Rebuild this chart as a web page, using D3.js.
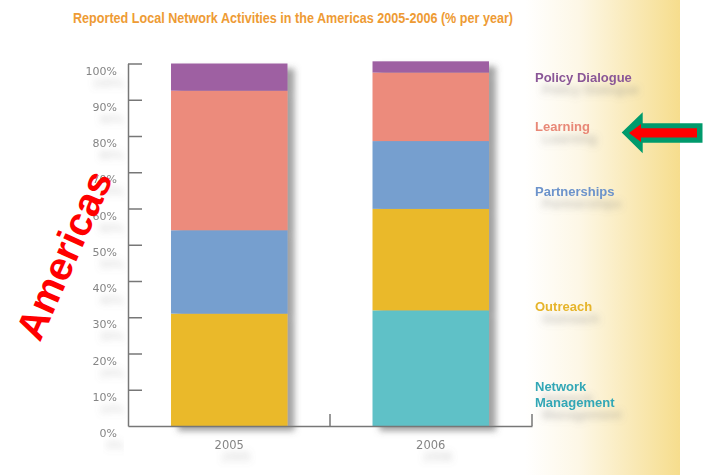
<!DOCTYPE html>
<html>
<head>
<meta charset="utf-8">
<script src="https://cdn.jsdelivr.net/npm/d3@7"></script>
<style>
  body { margin: 0; background: #fff; }
  svg { display: block; }
</style>
</head>
<body>
<svg></svg>
<script>
// values, % per year
const years = ['2005', '2006'];
const categories = ['Network Management', 'Outreach', 'Partnerships', 'Learning', 'Policy Dialogue'];
const networkManagement = [0, 31.9];
const outreach = [31, 28];
const partnerships = [23, 18.7];
const learning = [38.5, 18.9];
const policyDialogue = [7.5, 3.1];
const yTicks = [0, 10, 20, 30, 40, 50, 60, 70, 80, 90, 100];

const series = [networkManagement, outreach, partnerships, learning, policyDialogue];
const colors = ['#5fc1c7', '#eab92b', '#769fcf', '#ec8b7c', '#9e60a2'];
const labelColors = ['#33a7b6', '#e6b42a', '#6c93cb', '#e88877', '#8a5797'];

let width = 719, height = 475;

let svg = d3.select('svg')
            .attr('width', width)
            .attr('height', height);

let defs = svg.append('defs');

let grad = defs.append('linearGradient')
               .attr('id', 'bg')
               .attr('x1', 0).attr('x2', 1).attr('y1', 0).attr('y2', 0);
grad.append('stop').attr('offset', '0%').attr('stop-color', '#ffffff');
grad.append('stop').attr('offset', '35%').attr('stop-color', '#fdf7e6');
grad.append('stop').attr('offset', '100%').attr('stop-color', '#f6dd8d');

let barShadow = defs.append('filter').attr('id', 'barShadow')
                    .attr('x', '-10%').attr('y', '-10%').attr('width', '130%').attr('height', '125%');
barShadow.append('feDropShadow')
         .attr('dx', 7).attr('dy', 5).attr('stdDeviation', 3)
         .attr('flood-color', '#555').attr('flood-opacity', 0.55);

// blurred grey smudge under the labels
let textShadow = defs.append('filter').attr('id', 'textShadow')
                     .attr('x', '-20%').attr('y', '-60%').attr('width', '160%').attr('height', '300%');
textShadow.append('feGaussianBlur').attr('in', 'SourceAlpha').attr('stdDeviation', 3.5).attr('result', 'b');
textShadow.append('feOffset').attr('in', 'b').attr('dx', 7).attr('dy', 12).attr('result', 'o');
textShadow.append('feFlood').attr('flood-color', '#777').attr('flood-opacity', 0.4);
textShadow.append('feComposite').attr('in2', 'o').attr('operator', 'in').attr('result', 's');
let merge = textShadow.append('feMerge');
merge.append('feMergeNode').attr('in', 's');
merge.append('feMergeNode').attr('in', 'SourceGraphic');

// background band on the right
svg.append('rect')
   .attr('x', 0).attr('y', 0).attr('width', width).attr('height', height)
   .attr('fill', '#fff');
svg.append('rect')
   .attr('x', 525).attr('y', 0).attr('width', 155).attr('height', height)
   .attr('fill', 'url(#bg)');

// title
svg.append('text')
   .attr('x', 73).attr('y', 23)
   .attr('textLength', 440)
   .attr('lengthAdjust', 'spacingAndGlyphs')
   .style('font-family', 'Liberation Sans, Arial, sans-serif')
   .style('font-weight', 'bold')
   .style('font-size', '14px')
   .attr('fill', '#ee9b34')
   .text('Reported Local Network Activities in the Americas 2005-2006 (% per year)');

let x = d3.scaleBand()
          .domain(years)
          .range([128, 532])
          .paddingInner(0.422)
          .paddingOuter(0.2135);

let y = d3.scaleLinear()
          .domain([0, 100])
          .range([426, 63.5]);

let table = years.map((yr, i) => {
  let row = { year: yr };
  categories.forEach((c, k) => row[c] = series[k][i]);
  return row;
});

let stacked = d3.stack().keys(categories)(table);

// bars, one shadowed group per year
let barsGp = svg.append('g').classed('bars', true);
years.forEach((yr, i) => {
  let g = barsGp.append('g').attr('filter', 'url(#barShadow)');
  g.selectAll('rect')
    .data(stacked.map((s, k) => ({ key: s.key, k: k, d: s[i] })))
    .enter()
    .append('rect')
    .attr('x', x(yr))
    .attr('width', x.bandwidth())
    .attr('y', d => y(d.d[1]))
    .attr('height', d => y(d.d[0]) - y(d.d[1]))
    .attr('fill', d => colors[d.k]);
});

// y axis
let yAxis = svg.append('g')
               .attr('transform', 'translate(128,0)')
               .call(d3.axisLeft(y)
                       .tickValues(yTicks)
                       .tickSizeInner(-14)
                       .tickSizeOuter(0)
                       .tickPadding(11)
                       .tickFormat(d => d + '%'));
yAxis.select('.domain').attr('stroke', '#777').attr('stroke-width', 1.5);
yAxis.selectAll('.tick line').attr('stroke', '#777').attr('stroke-width', 1.5);
yAxis.selectAll('.tick').filter(d => d === 0).select('line').remove();
yAxis.selectAll('.tick text')
     .attr('y', 7)
     .attr('fill', '#858585')
     .attr('filter', 'url(#textShadow)')
     .style('font-family', 'DejaVu Sans, sans-serif')
     .style('font-size', '11px');

// x axis
let xAxis = svg.append('g')
               .attr('transform', 'translate(0,426)')
               .call(d3.axisBottom(x).tickSize(0).tickPadding(15));
xAxis.select('.domain').attr('stroke', '#777').attr('stroke-width', 1.5);
xAxis.selectAll('.tick text')
     .attr('fill', '#858585')
     .attr('filter', 'url(#textShadow)')
     .style('font-family', 'DejaVu Sans, sans-serif')
     .style('font-size', '11.5px');

let bounds = [(x(years[0]) + x.bandwidth() + x(years[1])) / 2, x.range()[1]];
xAxis.selectAll('line.sep')
     .data(bounds)
     .enter()
     .append('line')
     .attr('x1', d => d).attr('x2', d => d)
     .attr('y1', 0).attr('y2', -12)
     .attr('stroke', '#777').attr('stroke-width', 1.5);

// legend labels down the right side
let legendY = [386, 306, 191, 126, 77];
let legend = svg.append('g').classed('legend', true);
categories.forEach((c, k) => {
  let t = legend.append('text')
                .attr('x', 535)
                .attr('y', legendY[k])
                .attr('fill', labelColors[k])
                .attr('filter', 'url(#textShadow)')
                .style('font-family', 'Liberation Sans, Arial, sans-serif')
                .style('font-weight', 'bold')
                .style('font-size', '13px');
  let words = c === 'Network Management' ? ['Network', 'Management'] : [c];
  t.selectAll('tspan')
   .data(words)
   .enter()
   .append('tspan')
   .attr('x', 535)
   .attr('dy', (d, j) => j === 0 ? '0.35em' : '16px')
   .text(d => d);
});

// arrow pointing at Learning
svg.append('path')
   .attr('d', 'M621.7,132.5 L642.7,112.3 L642.7,123.3 L702.5,123.3 L702.5,142.7 L642.7,142.7 L642.7,153.3 Z')
   .attr('fill', '#009a6c');
svg.append('path')
   .attr('d', 'M629,133 L641,124 L641,128.3 L697,128.3 L697,137.5 L641,137.5 L641,142 Z')
   .attr('fill', '#ff0000');

// rotated region label
svg.append('text')
   .attr('transform', 'translate(40,343) rotate(-66)')
   .attr('fill', '#ff0000')
   .style('font-family', 'Liberation Sans, Arial, sans-serif')
   .style('font-weight', 'bold')
   .style('font-size', '40px')
   .text('Americas');
</script>
</body>
</html>
